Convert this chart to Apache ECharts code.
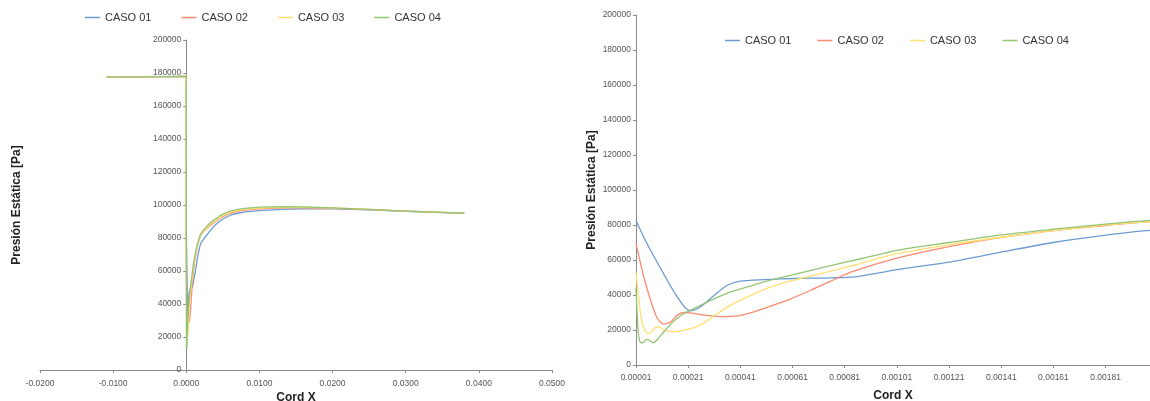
<!DOCTYPE html>
<html>
<head>
<meta charset="utf-8">
<script src="https://cdn.jsdelivr.net/npm/echarts@6/dist/echarts.min.js"></script>
<style>
html,body{margin:0;padding:0;background:#fff;}
#c{width:1150px;height:401px;}
</style>
</head>
<body>
<div id="c"></div>
<script>
// ---- Data (Cord X [m], Presión Estática [Pa]) ----
const seriesNames = ['CASO 01', 'CASO 02', 'CASO 03', 'CASO 04'];

const caso01 = [
  [-0.0109,177500],[-0.006,177700],[0,177900],
  [0.00001,82600],[0.00005,70000],[0.00012,51000],[0.00016,40800],[0.0002,32500],[0.00022,31000],
  [0.00026,33600],[0.00031,39900],[0.00036,45600],[0.00041,47900],[0.0005,48800],[0.00057,49200],
  [0.00067,49600],[0.00076,49800],[0.00085,50400],[0.00101,54500],[0.00121,58800],[0.00141,64500],
  [0.00161,70000],[0.00181,74200],[0.00198,76900],
  [0.0025,80000],[0.003,83000],[0.0035,85700],[0.004,88000],[0.0045,90000],[0.005,91500],[0.006,93800],
  [0.007,95000],[0.008,95800],[0.010,96600],[0.013,97300],[0.016,97600],[0.020,97600],[0.025,97000],
  [0.030,96200],[0.035,95400],[0.038,95000]
];
const caso02 = [
  [-0.0109,177500],[-0.006,177700],[0,177900],
  [0.00001,69300],[0.00004,50300],[0.000066,37000],[0.000092,26600],[0.000117,23400],[0.000143,24700],
  [0.000168,28500],[0.000194,30000],[0.00022,29800],[0.00027,28500],[0.000335,27700],[0.0004,28100],
  [0.000462,30400],[0.000526,33600],[0.000603,37800],[0.00068,42700],[0.000756,47900],[0.000845,53600],
  [0.00101,61100],[0.00121,67700],[0.00141,72900],[0.00161,76800],[0.00181,79700],[0.00198,82000],
  [0.0025,84500],[0.003,86500],[0.0035,88400],[0.004,90000],[0.0045,91700],[0.005,93000],[0.006,95000],
  [0.007,96100],[0.008,96900],[0.010,97700],[0.013,98200],[0.016,98300],[0.020,98000],[0.025,97200],
  [0.030,96300],[0.035,95500],[0.038,95000]
];
const caso03 = [
  [-0.0109,177500],[-0.006,177700],[0,177900],
  [0.00001,53200],[0.000021,37000],[0.000034,23700],[0.000053,18000],[0.000066,18400],[0.000085,21500],
  [0.000098,21800],[0.000117,19900],[0.000156,19000],[0.000194,19900],[0.000232,21300],[0.00027,24100],
  [0.000322,29400],[0.000373,34200],[0.000437,38900],[0.0005,43100],[0.000565,46500],[0.000629,49000],
  [0.000718,52200],[0.000845,57000],[0.00101,63600],[0.00121,68700],[0.00141,73000],[0.00161,76800],
  [0.00181,79900],[0.00198,82000],
  [0.0025,84500],[0.003,87000],[0.0035,89000],[0.004,90500],[0.0045,92200],[0.005,93600],[0.006,95500],
  [0.007,96600],[0.008,97300],[0.010,98100],[0.013,98600],[0.016,98600],[0.020,98200],[0.025,97300],
  [0.030,96300],[0.035,95500],[0.038,95000]
];
const caso04 = [
  [-0.0109,177500],[-0.006,177700],[0,177900],
  [0.00001,44000],[0.000018,20000],[0.000025,13300],[0.000035,12700],[0.000051,14600],[0.00006,14200],
  [0.000076,12700],[0.000092,14600],[0.000117,19000],[0.000156,25300],[0.000194,29400],[0.000245,33200],
  [0.000309,37800],[0.000373,41800],[0.000437,44600],[0.0005,47500],[0.000565,49900],[0.000629,52200],
  [0.000756,56800],[0.00088,61000],[0.00101,65500],[0.00121,70000],[0.00141,74400],[0.00161,77600],
  [0.00181,80500],[0.00198,82600],
  [0.0025,85500],[0.003,88000],[0.0035,90000],[0.004,91500],[0.0045,93200],[0.005,94500],[0.006,96300],
  [0.007,97300],[0.008,98000],[0.010,98700],[0.013,99000],[0.016,98900],[0.020,98300],[0.025,97300],
  [0.030,96300],[0.035,95500],[0.038,95000]
];
const allData = [caso01, caso02, caso03, caso04];
const colors = ['#6c9bd2', '#fb8a70', '#ffe073', '#93c572'];

// axis ranges
const leftXMin = -0.02, leftXMax = 0.05;
const zoomMin = 0.00001, zoomMax = 0.00198;

const FONT = "'Liberation Sans', Arial, sans-serif";
const axisLineStyle = { lineStyle: { color: '#8a8a8a', width: 1 } };
const labelStyle = { fontSize: 8.5, color: '#555', fontFamily: FONT };
const nameStyle = { fontSize: 12, fontWeight: 'bold', color: '#222', fontFamily: FONT };

const LEFT_GRID = { left: 40, top: 40, width: 512, height: 330 };
// y axis of the left panel sits at x = 0 of its value axis
const yOffsetLeft = -LEFT_GRID.width * (0 - leftXMin) / (leftXMax - leftXMin);

const series = [];
allData.forEach((d, i) => {
  series.push({
    name: seriesNames[i], type: 'line', xAxisIndex: 0, yAxisIndex: 0,
    data: d, showSymbol: false, symbol: 'none', smooth: false,
    lineStyle: { color: colors[i], width: 1.3 }, itemStyle: { color: colors[i] },
    animation: false
  });
});
allData.forEach((d, i) => {
  series.push({
    name: seriesNames[i], type: 'line', xAxisIndex: 1, yAxisIndex: 1,
    data: d.filter(p => p[0] >= zoomMin && p[0] <= 0.0026),
    showSymbol: false, symbol: 'none', smooth: 0.25, clip: true,
    lineStyle: { color: colors[i], width: 1.3 }, itemStyle: { color: colors[i] },
    animation: false
  });
});

const chart = echarts.init(document.getElementById('c'), null, { renderer: 'canvas' });
chart.setOption({
  animation: false,
  color: colors,
  legend: [
    { left: 85, top: 12, padding: 0, itemWidth: 15, itemHeight: 1.5, itemGap: 30, icon: 'rect',
      textStyle: { fontSize: 11, color: '#333', fontFamily: FONT }, data: seriesNames },
    { left: 725, top: 35, padding: 0, itemWidth: 15, itemHeight: 1.5, itemGap: 26, icon: 'rect',
      textStyle: { fontSize: 11, color: '#333', fontFamily: FONT }, data: seriesNames }
  ],
  grid: [
    Object.assign({ containLabel: false, outerBoundsMode: 'none' }, LEFT_GRID),
    { left: 636, top: 15, width: 514, height: 350, containLabel: false, outerBoundsMode: 'none' }
  ],
  xAxis: [
    { type: 'value', gridIndex: 0, min: leftXMin, max: leftXMax, interval: 0.01,
      name: 'Cord X', nameLocation: 'middle', nameGap: 22, nameTextStyle: nameStyle,
      nameMoveOverlap: false,
      axisLine: Object.assign({ onZero: false }, axisLineStyle),
      axisTick: { show: true, length: 3, lineStyle: { color: '#8a8a8a' } },
      axisLabel: Object.assign({ margin: 9, formatter: v => v.toFixed(4) }, labelStyle),
      splitLine: { show: false } },
    { type: 'value', gridIndex: 1, min: zoomMin, max: zoomMax, interval: 0.0002,
      name: 'Cord X', nameLocation: 'middle', nameGap: 25, nameTextStyle: nameStyle,
      nameMoveOverlap: false,
      axisLine: axisLineStyle, axisTick: { show: true, length: 3, lineStyle: { color: '#8a8a8a' } },
      axisLabel: Object.assign({ margin: 8, showMaxLabel: false, formatter: v => v.toFixed(5) }, labelStyle),
      splitLine: { show: false } }
  ],
  yAxis: [
    { type: 'value', gridIndex: 0, min: 0, max: 200000, interval: 20000,
      offset: yOffsetLeft,
      name: 'Presión Estática [Pa]', nameLocation: 'middle', nameGap: 164, nameRotate: 90,
      nameMoveOverlap: false,
      nameTextStyle: nameStyle,
      axisLine: Object.assign({ onZero: false }, axisLineStyle),
      axisTick: { show: true, length: 3, lineStyle: { color: '#8a8a8a' } },
      axisLabel: Object.assign({ margin: 5, formatter: v => String(v) }, labelStyle),
      splitLine: { show: false } },
    { type: 'value', gridIndex: 1, min: 0, max: 200000, interval: 20000,
      name: 'Presión Estática [Pa]', nameLocation: 'middle', nameGap: 38, nameRotate: 90,
      nameMoveOverlap: false,
      nameTextStyle: nameStyle,
      axisLine: axisLineStyle,
      axisTick: { show: true, length: 3, lineStyle: { color: '#8a8a8a' } },
      axisLabel: Object.assign({ margin: 5, formatter: v => String(v) }, labelStyle),
      splitLine: { show: false } }
  ],
  series: series
});
</script>
</body>
</html>
